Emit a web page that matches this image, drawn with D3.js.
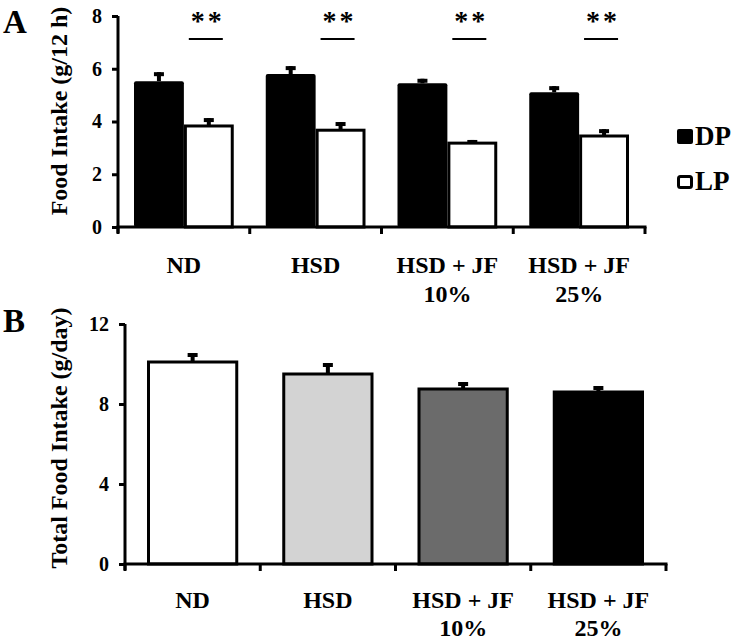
<!DOCTYPE html>
<html><head><meta charset="utf-8">
<script src="https://cdn.jsdelivr.net/npm/d3@7"></script>
<style>body{margin:0;background:#fff}svg{display:block}text{font-family:"Liberation Serif","Times New Roman",serif;font-weight:bold;fill:#000}</style>
</head><body>
<svg id="c" width="744" height="640"></svg>
<script>
// Panel A data
const catsA = [["ND"],["HSD"],["HSD + JF","10%"],["HSD + JF","25%"]];
const seriesA = ["DP","LP"];
const dpMean = [5.53, 5.80, 5.45, 5.11];
const dpErr  = [0.34, 0.30, 0.17, 0.23];
const lpMean = [3.83, 3.67, 3.18, 3.45];
const lpErr  = [0.30, 0.31, 0.12, 0.26];
const sigA   = ["**","**","**","**"];
const ticksA = [0,2,4,6,8];
// Panel B data
const catsB = [["ND"],["HSD"],["HSD + JF","10%"],["HSD + JF","25%"]];
const totMean = [10.1, 9.5, 8.75, 8.6];
const totErr  = [0.45, 0.55, 0.35, 0.3];
const colorsB = ["#ffffff","#d3d3d3","#6b6b6b","#000000"];
const ticksB = [0,4,8,12];

const svg = d3.select("#c");
const keys = catsA.map((c,i)=>"g"+i);
const FONT = "Liberation Serif";

// ---------- Panel A ----------
const xA = d3.scaleBand().domain(keys).range([118,645]).padding(0);
const yA = d3.scaleLinear().domain([0,8]).range([227,16]);
const xA1 = d3.scaleBand().domain(seriesA).range([16, xA.bandwidth()-16]).padding(0);
const gA = svg.append("g");

const dataA = keys.map((k,i)=>({k, vals:[{s:"DP",m:dpMean[i],e:dpErr[i]},{s:"LP",m:lpMean[i],e:lpErr[i]}]}));
const grpA = gA.selectAll("g.grp").data(dataA).join("g").attr("transform",d=>`translate(${xA(d.k)},0)`);
function errBar(sel, xc, yTop, yErr){
  sel.append("rect").attr("x",xc-2).attr("width",4).attr("y",yErr).attr("height",Math.max(0,yTop-yErr)).attr("fill","#000");
  sel.append("rect").attr("x",xc-5).attr("width",10).attr("y",yErr).attr("height",4).attr("fill","#000");
}
grpA.each(function(d){
  const g = d3.select(this);
  d.vals.forEach(v=>{
    const x0 = xA1(v.s), w = xA1.bandwidth();
    errBar(g, x0+w/2, yA(v.m), yA(v.m+v.e));
    if(v.s==="DP"){
      g.append("rect").attr("x",x0).attr("width",w).attr("y",yA(v.m)).attr("height",yA(0)-yA(v.m)).attr("fill","#000").attr("rx",2);
    } else {
      g.append("rect").attr("x",x0+1.5).attr("width",w-3).attr("y",yA(v.m)).attr("height",yA(0)-yA(v.m)).attr("fill","#fff").attr("stroke","#000").attr("stroke-width",3);
    }
  });
});
// significance
grpA.each(function(d,i){
  const g = d3.select(this);
  const xc = xA1("LP")+xA1.bandwidth()/2-3;
  g.append("line").attr("x1",xc-17).attr("x2",xc+17).attr("y1",39).attr("y2",39).attr("stroke","#000").attr("stroke-width",2);
  g.append("text").attr("x",xc+2).attr("y",30).attr("text-anchor","middle").attr("font-family",FONT).attr("font-size",28).attr("letter-spacing",3).text(sigA[i]);
});
// y axis A
const yAxA = gA.append("g").attr("transform","translate(118,0)").call(d3.axisLeft(yA).tickValues(ticksA).tickSize(6).tickPadding(10).tickFormat(d3.format("d")));
yAxA.attr("font-family",FONT);
yAxA.select(".domain").attr("stroke-width",3).attr("d",`M0,${yA(8)}V${yA(0)+6}`);
yAxA.selectAll(".tick line").attr("stroke-width",3);
yAxA.selectAll(".tick text").attr("font-size",20).attr("font-family",FONT).attr("font-weight","bold");
// x axis A
const xAxA = gA.append("g").attr("transform",`translate(0,${yA(0)})`);
xAxA.append("line").attr("x1",116.5).attr("x2",646.5).attr("y1",0).attr("y2",0).attr("stroke","#000").attr("stroke-width",3);
xAxA.selectAll("line.tk").data(keys.map(k=>xA(k)).concat([645])).join("line").attr("class","tk")
  .attr("x1",d=>d).attr("x2",d=>d).attr("y1",0).attr("y2",7).attr("stroke","#000").attr("stroke-width",3);
// category labels A
const labA = gA.selectAll("text.cat").data(catsA).join("text").attr("class","cat")
  .attr("text-anchor","middle").attr("font-family",FONT).attr("font-size",24)
  .attr("x",(d,i)=>xA(keys[i])+xA.bandwidth()/2).attr("y",273);
labA.each(function(d){ d3.select(this).selectAll("tspan").data(d).join("tspan").attr("x",d3.select(this).attr("x")).attr("dy",(t,j)=>j?29:0).text(t=>t); });
// y label A
gA.append("text").attr("transform","translate(67,111) rotate(-90)").attr("text-anchor","middle").attr("font-family",FONT).attr("font-size",24).text("Food Intake (g/12 h)");
gA.append("text").attr("x",3).attr("y",33).attr("font-family",FONT).attr("font-size",33).text("A");
// legend
const leg = gA.selectAll("g.leg").data(seriesA).join("g").attr("class","leg").attr("transform",(d,i)=>`translate(677,${129+i*46})`);
leg.append("rect").attr("x",d=>d==="DP"?0:1.5).attr("y",d=>d==="DP"?0:1.5).attr("width",d=>d==="DP"?16:13).attr("height",d=>d==="DP"?15:11)
  .attr("rx",2).attr("fill",d=>d==="DP"?"#000":"#fff").attr("stroke",d=>d==="DP"?"none":"#000").attr("stroke-width",3);
leg.append("text").attr("x",18).attr("y",(d,i)=>i?15:16).attr("font-family",FONT).attr("font-size",27).text(d=>d);

// ---------- Panel B ----------
const xB = d3.scaleBand().domain(keys).range([125,666]).padding(0);
const yB = d3.scaleLinear().domain([0,12]).range([564,324]);
const gB = svg.append("g");
const inset = 23.5;
const dataB = keys.map((k,i)=>({k,m:totMean[i],e:totErr[i],c:colorsB[i]}));
const grpB = gB.selectAll("g.grp").data(dataB).join("g").attr("transform",d=>`translate(${xB(d.k)},0)`);
grpB.each(function(d){
  const g = d3.select(this);
  const w = xB.bandwidth()-2*inset;
  errBar(g, inset+w/2, yB(d.m), yB(d.m+d.e));
  g.append("rect").attr("x",inset).attr("width",w).attr("y",yB(d.m)).attr("height",yB(0)-yB(d.m))
   .attr("fill",d.c).attr("stroke","#000").attr("stroke-width",3);
});
const yAxB = gB.append("g").attr("transform","translate(125,0)").call(d3.axisLeft(yB).tickValues(ticksB).tickSize(6).tickPadding(10).tickFormat(d3.format("d")));
yAxB.attr("font-family",FONT);
yAxB.select(".domain").attr("stroke-width",3).attr("d",`M0,${yB(12)}V${yB(0)+6}`);
yAxB.selectAll(".tick line").attr("stroke-width",3);
yAxB.selectAll(".tick text").attr("font-size",20).attr("font-family",FONT).attr("font-weight","bold");
const xAxB = gB.append("g").attr("transform",`translate(0,${yB(0)})`);
xAxB.append("line").attr("x1",123.5).attr("x2",667.5).attr("y1",0).attr("y2",0).attr("stroke","#000").attr("stroke-width",3);
xAxB.selectAll("line.tk").data(keys.map(k=>xB(k)).concat([666])).join("line").attr("class","tk")
  .attr("x1",d=>d).attr("x2",d=>d).attr("y1",0).attr("y2",7).attr("stroke","#000").attr("stroke-width",3);
const labB = gB.selectAll("text.cat").data(catsB).join("text").attr("class","cat")
  .attr("text-anchor","middle").attr("font-family",FONT).attr("font-size",24)
  .attr("x",(d,i)=>xB(keys[i])+xB.bandwidth()/2).attr("y",608);
labB.each(function(d){ d3.select(this).selectAll("tspan").data(d).join("tspan").attr("x",d3.select(this).attr("x")).attr("dy",(t,j)=>j?28:0).text(t=>t); });
gB.append("text").attr("transform","translate(67,438) rotate(-90)").attr("text-anchor","middle").attr("font-family",FONT).attr("font-size",24).text("Total Food Intake (g/day)");
gB.append("text").attr("x",3).attr("y",332).attr("font-family",FONT).attr("font-size",33).text("B");
</script>
</body></html>
